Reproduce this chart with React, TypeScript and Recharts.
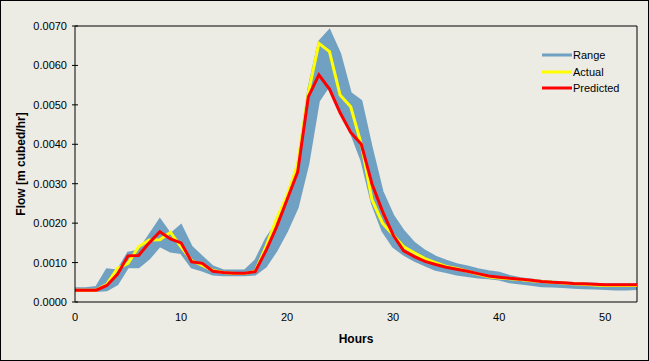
import {
  Area,
  ComposedChart,
  Legend,
  Line,
  ReferenceLine,
  XAxis,
  YAxis,
} from 'recharts'

const hours = [
  0, 1, 2, 3, 4, 5, 6, 7, 8, 9, 10, 11, 12, 13, 14, 15, 16, 17, 18, 19, 20, 21,
  22, 23, 24, 25, 26, 27, 28, 29, 30, 31, 32, 33, 34, 35, 36, 37, 38, 39, 40,
  41, 42, 43, 44, 45, 46, 47, 48, 49, 50, 51, 52, 53,
]

const predicted = [
  0.0003, 0.0003, 0.0003, 0.00042, 0.0007, 0.00117, 0.00118, 0.0015, 0.00178,
  0.0016, 0.0015, 0.00102, 0.00098, 0.00078, 0.00075, 0.00073, 0.00073,
  0.00077, 0.0013, 0.0019, 0.0026, 0.0033, 0.0052, 0.00576, 0.0054, 0.0048,
  0.0043, 0.004, 0.003, 0.0023, 0.0017, 0.0013, 0.00115, 0.00103, 0.00095,
  0.00088, 0.00083, 0.00078, 0.00072, 0.00066, 0.00063, 0.0006, 0.00058,
  0.00055, 0.00052, 0.0005, 0.00049, 0.00047, 0.00046, 0.00045, 0.00044,
  0.00044, 0.00044, 0.00044,
]

const actual = [
  0.0003, 0.0003, 0.0003, 0.00045, 0.00085, 0.00098, 0.0014, 0.00157, 0.00158,
  0.00177, 0.0014, 0.00105, 0.00093, 0.0008, 0.00075, 0.00072, 0.00072,
  0.00078, 0.0014, 0.0021, 0.0027, 0.0035, 0.0053, 0.00656, 0.00635, 0.00525,
  0.00495, 0.004, 0.0026, 0.002, 0.0017, 0.0014, 0.00125, 0.0011, 0.001,
  0.0009, 0.00085, 0.00078, 0.00071, 0.00064, 0.00061, 0.00059, 0.00057,
  0.00054, 0.00052, 0.0005, 0.00048, 0.00046, 0.00045, 0.00043, 0.00042,
  0.00042, 0.00042, 0.00042,
]

const rangeHigh = [
  0.00035, 0.00035, 0.00038, 0.00083, 0.0008, 0.00125, 0.0013, 0.0017, 0.0021,
  0.00172, 0.00195, 0.0014, 0.00115, 0.0009, 0.0008, 0.0008, 0.0008, 0.00105,
  0.0016, 0.002, 0.0027, 0.0035, 0.0054, 0.0066, 0.0069, 0.0063, 0.0053,
  0.0051, 0.0039, 0.0028, 0.0022, 0.0018, 0.0015, 0.0013, 0.00115, 0.00105,
  0.00096, 0.0009, 0.00083, 0.00078, 0.00074, 0.00066, 0.0006, 0.00057,
  0.00054, 0.00052, 0.0005, 0.00048, 0.00047, 0.00046, 0.00045, 0.00045,
  0.00045, 0.00045,
]

const rangeLow = [
  0.00028, 0.00028, 0.00028, 0.0003, 0.00045, 0.00088, 0.00088, 0.0011,
  0.00142, 0.00128, 0.00124, 0.00088, 0.0008, 0.0007, 0.00068, 0.00068,
  0.00068, 0.0007, 0.0009, 0.0013, 0.0018, 0.0024, 0.0035, 0.0051, 0.0055,
  0.0049, 0.0043, 0.0036, 0.0025, 0.0018, 0.0014, 0.0012, 0.00105, 0.00093,
  0.00082, 0.00076, 0.0007, 0.00066, 0.00062, 0.0006, 0.00057, 0.0005, 0.00047,
  0.00044, 0.0004, 0.00039, 0.00038, 0.00036, 0.00035, 0.00034, 0.00033,
  0.00032, 0.00032, 0.00033,
]

const yTicks = [0, 0.001, 0.002, 0.003, 0.004, 0.005, 0.006, 0.007]
const xTicks = [0, 10, 20, 30, 40, 50]
const seriesOrder = ['Range', 'Actual', 'Predicted']

const data = hours.map((h, i) => ({
  hour: h,
  range: [rangeLow[i], rangeHigh[i]],
  actual: actual[i],
  predicted: predicted[i],
}))

const font = '"Liberation Sans", Arial, sans-serif'
const bandColor = '#70A0C2'

function YTick(props: any) {
  const { x, y, payload } = props
  const axisX = x + 8
  return (
    <g>
      <line x1={axisX - 3} x2={axisX + 3} y1={y} y2={y} stroke='#000' />
      <text
        x={x}
        y={y}
        dy={4}
        textAnchor='end'
        fontSize={11}
        fontFamily={font}
        fill='#000'
      >
        {Number(payload.value).toFixed(4)}
      </text>
    </g>
  )
}

function YTitle(props: any) {
  const { viewBox } = props
  const cx = viewBox.x + 20
  const cy = viewBox.y + viewBox.height / 2
  return (
    <text
      x={cx}
      y={cy}
      transform={`rotate(-90 ${cx} ${cy})`}
      textAnchor='middle'
      dominantBaseline='central'
      fontSize={12}
      fontWeight='bold'
      fontFamily={font}
      fill='#000'
    >
      Flow [m cubed/hr]
    </text>
  )
}

function LegendBox(props: any) {
  const items = [...(props.payload ?? [])].sort(
    (a: any, b: any) =>
      seriesOrder.indexOf(a.value) - seriesOrder.indexOf(b.value),
  )
  return (
    <div style={{ fontSize: 11, fontFamily: font, color: '#000' }}>
      {items.map((entry: any) => (
        <div
          key={entry.value}
          style={{ display: 'flex', alignItems: 'center', height: 16.5 }}
        >
          <svg width={30} height={4} style={{ display: 'block' }}>
            <line
              x1={0}
              x2={30}
              y1={2}
              y2={2}
              stroke={entry.color}
              strokeWidth={3}
            />
          </svg>
          <span style={{ marginLeft: 1 }}>{entry.value}</span>
        </div>
      ))}
    </div>
  )
}

export default function App() {
  return (
    <div
      style={{
        position: 'absolute',
        left: 0,
        top: 0,
        width: 649,
        height: 361,
        boxSizing: 'border-box',
        border: '1px solid #000',
        background: '#ECECE4',
      }}
    >
      <ComposedChart
        width={647}
        height={359}
        data={data}
        margin={{ top: 25, right: 11, bottom: 0, left: 0 }}
      >
        <XAxis
          dataKey='hour'
          type='number'
          domain={[0, 53]}
          ticks={xTicks}
          allowDataOverflow
          height={58}
          stroke='#000'
          tickLine={false}
          tickSize={0}
          tickMargin={11}
          tick={{ fill: '#000', fontSize: 11, fontFamily: font }}
          label={{
            value: 'Hours',
            position: 'insideBottom',
            offset: 17,
            style: {
              fill: '#000',
              fontSize: 12,
              fontWeight: 'bold',
              fontFamily: font,
            },
          }}
        />
        <YAxis
          type='number'
          domain={[0, 0.007]}
          ticks={yTicks}
          width={74}
          stroke='#000'
          tickLine={false}
          tickSize={3}
          tickMargin={5}
          tick={<YTick />}
          label={{ content: <YTitle /> }}
        />
        <ReferenceLine y={0.007} stroke='#000' />
        <ReferenceLine x={53} stroke='#000' />
        <Legend
          layout='vertical'
          align='center'
          verticalAlign='middle'
          itemSorter={null}
          content={<LegendBox />}
          wrapperStyle={{ left: 541, top: 46, width: 'auto', height: 'auto' }}
        />
        <Area
          name='Range'
          dataKey='range'
          type='linear'
          stroke={bandColor}
          strokeWidth={2}
          fill={bandColor}
          fillOpacity={1}
          legendType='line'
          isAnimationActive={false}
        />
        <Line
          name='Actual'
          dataKey='actual'
          type='linear'
          stroke='#FFFF00'
          strokeWidth={3}
          dot={false}
          isAnimationActive={false}
        />
        <Line
          name='Predicted'
          dataKey='predicted'
          type='linear'
          stroke='#FF0000'
          strokeWidth={3}
          dot={false}
          isAnimationActive={false}
        />
      </ComposedChart>
    </div>
  )
}
